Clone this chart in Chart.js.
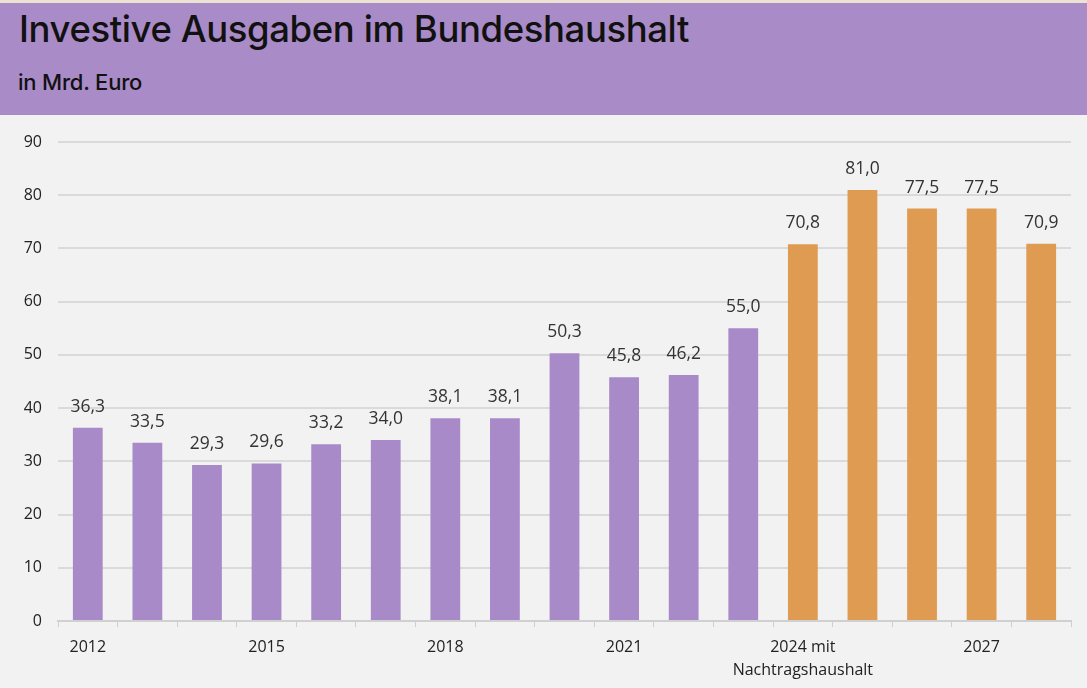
<!DOCTYPE html>
<html lang="de">
<head>
<meta charset="utf-8">
<title>Investive Ausgaben im Bundeshaushalt</title>
<script src="https://cdn.jsdelivr.net/npm/chart.js@4.4.1/dist/chart.umd.min.js"></script>
<style>
    html, body { margin: 0; padding: 0; background: #f2f2f2; }
    #header {
        height: 112px;
        border-top: 3px solid #ede3d3;
        background: #a98bc8;
        position: relative;
        font-family: Inter, "Noto Sans", sans-serif;
        color: #111;
    }
    #title { position: absolute; left: 19px; top: 4px; font-size: 36.5px; font-weight: 500; letter-spacing: -0.4px; }
    #subtitle { position: absolute; left: 18px; top: 66px; font-size: 22px; font-weight: 500; letter-spacing: -0.2px; }
    #wrap { position: relative; width: 1087px; height: 573px; }
</style>
</head>
<body>
<div id="header">
    <div id="title">Investive Ausgaben im Bundeshaushalt</div>
    <div id="subtitle">in Mrd. Euro</div>
</div>
<div id="wrap"><canvas id="investChart"></canvas></div>
<script>
const years = ["2012", "2013", "2014", "2015", "2016", "2017", "2018", "2019", "2020",
    "2021", "2022", "2023", "2024", "2025", "2026", "2027", "2028"];
const shownLabels = {
    "2012": "2012",
    "2015": "2015",
    "2018": "2018",
    "2021": "2021",
    "2024": ["2024 mit", "Nachtragshaushalt"],
    "2027": "2027"
};
const spending = [36.3, 33.5, 29.3, 29.6, 33.2, 34.0, 38.1, 38.1, 50.3, 45.8, 46.2, 55.0,
    70.8, 81.0, 77.5, 77.5, 70.9];
const firstPlanYear = "2024";
const yTicks = [0, 10, 20, 30, 40, 50, 60, 70, 80, 90];

const purple = "#a98ac8";
const orange = "#df9b51";

// value labels above the bars, German decimal comma
const valueLabels = {
    id: "valueLabels",
    afterDatasetsDraw(chart) {
        const ctx = chart.ctx;
        const meta = chart.getDatasetMeta(0);
        ctx.save();
        ctx.font = "17.5px 'Open Sans', 'Noto Sans', sans-serif";
        ctx.fillStyle = "#333";
        ctx.textAlign = "center";
        ctx.textBaseline = "alphabetic";
        meta.data.forEach((bar, i) => {
            const txt = spending[i].toFixed(1).replace(".", ",");
            ctx.fillText(txt, bar.x, bar.y - 16);
        });
        ctx.restore();
    }
};

const chartCanvas = document.getElementById("investChart");
new Chart(chartCanvas, {
    type: "bar",
    data: {
        labels: years,
        datasets: [{
            data: spending,
            backgroundColor: years.map(y => (y >= firstPlanYear ? orange : purple)),
            categoryPercentage: 1,
            barPercentage: 0.5
        }]
    },
    options: {
        responsive: true,
        maintainAspectRatio: false,
        animation: false,
        layout: { padding: { left: 0, right: 16, top: 27, bottom: 0 } },
        plugins: {
            legend: { display: false },
            tooltip: { enabled: false }
        },
        scales: {
            x: {
                offset: true,
                grid: {
                    offset: true,
                    drawOnChartArea: false,
                    drawTicks: true,
                    tickLength: 6,
                    color: "#d0d0d0"
                },
                border: { color: "#d0d0d0", width: 2 },
                ticks: {
                    autoSkip: false,
                    maxRotation: 0,
                    padding: 9,
                    color: "#222",
                    font: { family: "'Open Sans', 'Noto Sans', sans-serif", size: 16, lineHeight: 1.45 },
                    callback: (val, i) => shownLabels[years[i]] || ""
                },
                afterFit: scale => { scale.height = 67; }
            },
            y: {
                min: 0,
                max: 90,
                afterBuildTicks: scale => { scale.ticks = yTicks.map(v => ({ value: v })); },
                grid: { color: "#dadada", lineWidth: 2, drawTicks: false },
                border: { display: false },
                ticks: {
                    padding: 16,
                    color: "#222",
                    font: { family: "'Open Sans', 'Noto Sans', sans-serif", size: 16 }
                },
                afterFit: scale => { scale.width = 58; }
            }
        }
    },
    plugins: [valueLabels]
});
</script>
</body>
</html>
